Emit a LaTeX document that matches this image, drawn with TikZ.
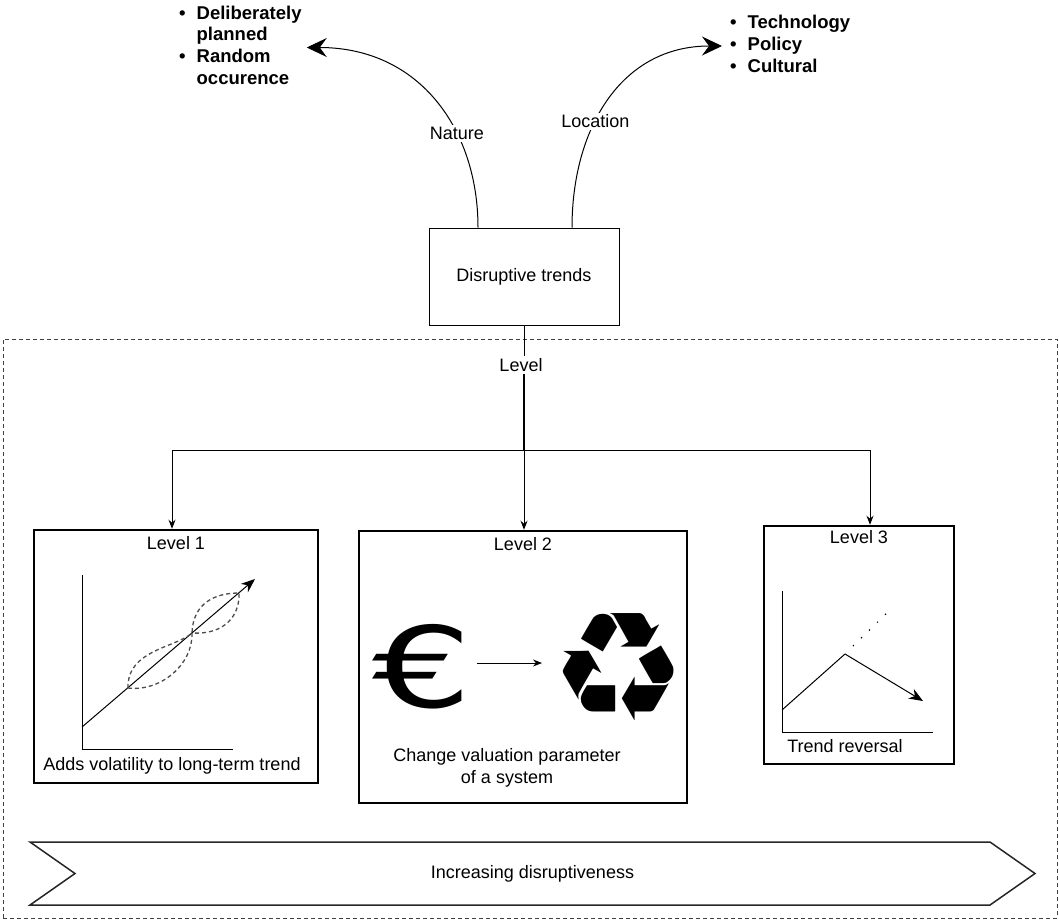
\documentclass[tikz,border=0pt]{standalone}
\usepackage{fontspec}
\setmainfont{Liberation Sans}
\newfontfamily\symfont{DejaVu Sans}
\usetikzlibrary{arrows,arrows.meta,shapes,shapes.symbols,backgrounds,positioning}

\begin{document}
\begin{tikzpicture}[x=1pt,y=-1pt,>={Stealth[length=9pt,width=7pt]},font=\fontsize{18}{21.7}\selectfont]
  \tikzstyle{trend}=[rectangle,draw=black,line width=1pt,minimum width=190pt,minimum height=97pt]
  \tikzstyle{lvlbox}=[rectangle,draw=black,line width=2.5pt]
  \tikzstyle{lab}=[fill=white,inner sep=2pt]
  \tikzstyle{bullets}=[align=left,font=\fontsize{18.5}{21.7}\selectfont\bfseries,inner ysep=0pt]
  \tikzstyle{bighead}=[-{Stealth[length=20pt,width=19pt,inset=7pt]},line width=1pt]
  \tikzstyle{volat}=[dash pattern=on 4pt off 3pt,line width=1.3pt,black!70]

  \useasboundingbox (0,0) rectangle (1059,921);

  % Trend and its two branches.
  \node [trend] (dt) at (524,276.5) {Disruptive trends};
  \node [bullets,anchor=west,inner xsep=5pt] (nat) at (174,47.5) {%
    \begin{tabular}{@{}l@{\hspace{11pt}}l@{}}
      \textbullet & Deliberately\\ & planned\\ \textbullet & Random\\ & occurence
    \end{tabular}};
  \node [bullets,anchor=west,inner xsep=8pt] (loc) at (722,46) {%
    \begin{tabular}{@{}l@{\hspace{11pt}}l@{}}
      \textbullet & Technology\\ \textbullet & Policy\\ \textbullet & Cultural
    \end{tabular}};

  \draw [bighead] ([xshift=-46pt]dt.north) .. controls (478,130) and (420,47.5) .. (nat.east)
    node [lab,pos=0.35] (natlab) {Nature};
  \draw [bighead] ([xshift=48pt]dt.north) .. controls (572,130) and (620,46) .. (loc.west)
    node [lab,pos=0.4] (loclab) {Location};

  % Levels.
  \node [draw=black!75,dash pattern=on 4pt off 3pt,line width=0.8pt,minimum width=1054pt,minimum height=579pt] (frame) at (530,628.5) {};
  \node [lab] (lvl) at (521,365) {Level};
  \coordinate (j) at (524,450);

  \node [lvlbox,minimum width=284pt,minimum height=253pt] (l1) at (176,656.5) {};
  \node [lvlbox,minimum width=328pt,minimum height=272pt] (l2) at (523,667) {};
  \node [lvlbox,minimum width=190pt,minimum height=238pt] (l3) at (859,645) {};
  \node [below=4pt of l1.north] (l1lab) {Level 1};
  \node [below=4pt of l2.north] (l2lab) {Level 2};
  \node [below=2pt of l3.north] (l3lab) {Level 3};

  \draw [line width=1pt] (dt.south) -- (lvl.north -| dt.south);
  \draw [line width=1.6pt] (lvl.south -| j) -- (j);
  \draw [->,line width=1pt] (j) -| ([xshift=-4pt]l1.north);
  \draw [->,line width=1pt] (j) -- (j |- l2.north);
  \draw [->,line width=1pt] (j) -| ([xshift=11pt]l3.north);

  % Level 1: volatility.
  \draw [line width=1pt] (82,575) -- (82,749) -- (233,749);
  \draw [-{Stealth[length=14pt,width=11pt]},line width=1pt] (82,727) -- (255,579);
  \draw [volat] (128,688) .. controls (127,650) and (175,648) .. (192,633)
                          .. controls (193,603) and (215,593) .. (239,593);
  \draw [volat] (128,688) .. controls (160,692) and (193,665) .. (192,633)
                          .. controls (225,635) and (240,615) .. (239,593);
  \node (l1txt) at (172,766) {Adds volatility to long-term trend};

  % Level 2: valuation.
  \node [font=\symfont\fontsize{112}{112}\selectfont,inner sep=0pt] (eur) at (422,667) {\scalebox{1.4}[1]{€}};
  \node [font=\symfont\fontsize{152}{152}\selectfont,inner sep=0pt] (rec) at (619,667) {♻};
  \draw [->,line width=1pt] (477,663) -- (542,663);
  \node [align=center] (l2txt) at (507,767.5) {Change valuation parameter\\of a system};

  % Level 3: reversal.
  \draw [line width=1pt] (782,591) -- (782,732) -- (933,732);
  \draw [-{Stealth[length=14pt,width=11pt]},line width=1pt] (782,710) -- (845,654) -- (923,701);
  \draw [dash pattern=on 1.2pt off 10pt,line width=1.2pt] (853,646) -- (893,607);
  \node (l3txt) at (845,746) {Trend reversal};

  % Increasing disruptiveness.
  \node [signal,signal to=east,signal from=west,signal pointer angle=70,draw=black!85,line width=1.5pt,
         minimum width=1005pt,minimum height=63pt] (incr) at (532.5,873.5) {Increasing disruptiveness};
\end{tikzpicture}
\end{document}
